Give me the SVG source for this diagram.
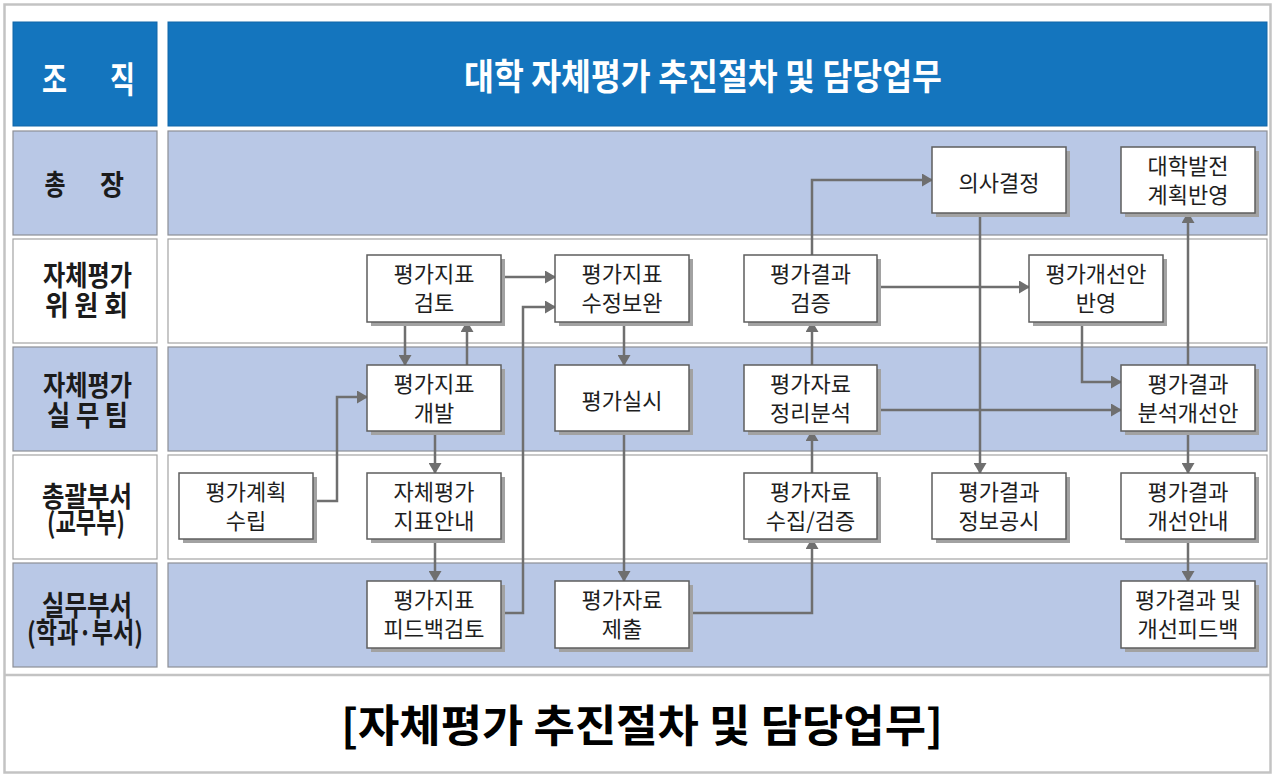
<svg xmlns="http://www.w3.org/2000/svg" width="1275" height="775" viewBox="0 0 1275 775">
<style>
.bg{fill:#fff}
.frame{fill:none;stroke:#c3c3c3;stroke-width:2.5}
.hdr{fill:#1475be;stroke:#1066a8;stroke-width:1}
.cl{fill:#b9c8e6;stroke:#8d8f96;stroke-width:1.2}
.cw{fill:#fff;stroke:#a3a3a3;stroke-width:1.2}
.sh{fill:#a2a2a2}
.bx{fill:#fff;stroke:#5e5e5e;stroke-width:1.5}
.bt{font-family:"Noto Sans CJK KR","Noto Sans",sans-serif;font-size:22px;fill:#1e1e1e;text-anchor:middle}
.lb{font-family:"Noto Sans CJK KR","Noto Sans",sans-serif;font-weight:700;font-size:28px;fill:#1b1b1b;text-anchor:middle}
.wt{font-family:"Noto Sans CJK KR","Noto Sans",sans-serif;font-weight:700;fill:#fff;text-anchor:middle}
.cap{font-family:"Noto Sans CJK KR","Noto Sans",sans-serif;font-weight:700;font-size:44px;fill:#000;text-anchor:middle}
.cn path{fill:none;stroke:#6f6f6f;stroke-width:2.5;marker-end:url(#ah)}
</style>
<defs>
<marker id="ah" markerUnits="userSpaceOnUse" markerWidth="11" markerHeight="13" refX="10" refY="6.5" orient="auto">
<path d="M0,0 L11,6.5 L0,13 z" fill="#6f6f6f"/>
</marker>
</defs>
<rect class="bg" x="0" y="0" width="1275" height="775"/>
<rect class="frame" x="4.5" y="4.5" width="1266" height="768"/>
<line x1="4" y1="675" x2="1271" y2="675" stroke="#c3c3c3" stroke-width="2.5"/>

<g id="header">
<rect class="hdr" x="13" y="22" width="144" height="104"/>
<rect class="hdr" x="168" y="22" width="1099" height="104"/>
<text class="wt" x="54.5" y="93" font-size="36" textLength="25" lengthAdjust="spacingAndGlyphs">조</text>
<text class="wt" x="122.5" y="93" font-size="36" textLength="25" lengthAdjust="spacingAndGlyphs">직</text>
<text class="wt" x="703" y="90" font-size="36" textLength="478" lengthAdjust="spacingAndGlyphs">대학 자체평가 추진절차 및 담당업무</text>
</g>

<g id="lanes">
<rect class="cl" x="13" y="131" width="144" height="104"/>
<rect class="cl" x="168" y="131" width="1099" height="104"/>
<rect class="cw" x="13" y="239" width="144" height="104"/>
<rect class="cw" x="168" y="239" width="1099" height="104"/>
<rect class="cl" x="13" y="347" width="144" height="104"/>
<rect class="cl" x="168" y="347" width="1099" height="104"/>
<rect class="cw" x="13" y="455" width="144" height="104"/>
<rect class="cw" x="168" y="455" width="1099" height="104"/>
<rect class="cl" x="13" y="563" width="144" height="104"/>
<rect class="cl" x="168" y="563" width="1099" height="104"/>
</g>

<g id="lane-labels">
<text class="lb" x="55" y="195" textLength="21" lengthAdjust="spacingAndGlyphs">총</text>
<text class="lb" x="112" y="195" textLength="24" lengthAdjust="spacingAndGlyphs">장</text>
<text class="lb" x="87.5" y="286" textLength="89" lengthAdjust="spacingAndGlyphs">자체평가</text>
<text class="lb" x="86.5" y="316" textLength="83" lengthAdjust="spacingAndGlyphs">위 원 회</text>
<text class="lb" x="87.5" y="396" textLength="89" lengthAdjust="spacingAndGlyphs">자체평가</text>
<text class="lb" x="87.5" y="426" textLength="81" lengthAdjust="spacingAndGlyphs">실 무 팀</text>
<text class="lb" x="87" y="507" textLength="90" lengthAdjust="spacingAndGlyphs">총괄부서</text>
<text class="lb" x="86" y="533" textLength="78" lengthAdjust="spacingAndGlyphs">(교무부)</text>
<text class="lb" x="87" y="616" textLength="90" lengthAdjust="spacingAndGlyphs">실무부서</text>
<text class="lb" x="85" y="643" textLength="116" lengthAdjust="spacingAndGlyphs">(학과·부서)</text>
</g>

<g id="connectors" class="cn">
<path d="M405,322 V365"/>
<path d="M467,365 V322"/>
<path d="M501,277 H555"/>
<path d="M313,501 H337 V397 H367"/>
<path d="M435,431 V473"/>
<path d="M435,539 V581"/>
<path d="M501,613 H523 V307 H555"/>
<path d="M624,322 V365"/>
<path d="M624,431 V581"/>
<path d="M689,613 H812 V539"/>
<path d="M812,473 V431"/>
<path d="M812,365 V322"/>
<path d="M812,255 V180 H932"/>
<path d="M877,287 H1029"/>
<path d="M980,213 V473"/>
<path d="M1082,322 V382 H1121"/>
<path d="M877,410 H1121"/>
<path d="M1188,365 V213"/>
<path d="M1188,431 V473"/>
<path d="M1188,539 V581"/>
</g>

<g id="n-decide"><rect class="sh" x="936" y="151" width="134" height="66"/><rect class="bx" x="932" y="147" width="134" height="66"/><text class="bt" x="999" y="191">의사결정</text></g>
<g id="n-plan-reflect"><rect class="sh" x="1125" y="151" width="134" height="66"/><rect class="bx" x="1121" y="147" width="134" height="66"/><text class="bt" x="1188" y="174">대학발전</text><text class="bt" x="1188" y="203">계획반영</text></g>

<g id="n-review"><rect class="sh" x="371" y="259" width="134" height="67"/><rect class="bx" x="367" y="255" width="134" height="67"/><text class="bt" x="434" y="282">평가지표</text><text class="bt" x="434" y="311">검토</text></g>
<g id="n-revise"><rect class="sh" x="559" y="259" width="134" height="67"/><rect class="bx" x="555" y="255" width="134" height="67"/><text class="bt" x="622" y="282">평가지표</text><text class="bt" x="622" y="311">수정보완</text></g>
<g id="n-verify"><rect class="sh" x="748" y="259" width="133" height="67"/><rect class="bx" x="744" y="255" width="133" height="67"/><text class="bt" x="810.5" y="282">평가결과</text><text class="bt" x="810.5" y="311">검증</text></g>
<g id="n-improve-reflect"><rect class="sh" x="1033" y="259" width="134" height="67"/><rect class="bx" x="1029" y="255" width="134" height="67"/><text class="bt" x="1096" y="282">평가개선안</text><text class="bt" x="1096" y="311">반영</text></g>

<g id="n-develop"><rect class="sh" x="371" y="369" width="134" height="66"/><rect class="bx" x="367" y="365" width="134" height="66"/><text class="bt" x="434" y="392">평가지표</text><text class="bt" x="434" y="421">개발</text></g>
<g id="n-conduct"><rect class="sh" x="559" y="369" width="134" height="66"/><rect class="bx" x="555" y="365" width="134" height="66"/><text class="bt" x="622" y="409">평가실시</text></g>
<g id="n-analyze"><rect class="sh" x="748" y="369" width="133" height="66"/><rect class="bx" x="744" y="365" width="133" height="66"/><text class="bt" x="810.5" y="392">평가자료</text><text class="bt" x="810.5" y="421">정리분석</text></g>
<g id="n-improve-plan"><rect class="sh" x="1125" y="369" width="134" height="66"/><rect class="bx" x="1121" y="365" width="134" height="66"/><text class="bt" x="1188" y="392">평가결과</text><text class="bt" x="1188" y="421">분석개선안</text></g>

<g id="n-plan"><rect class="sh" x="183" y="477" width="134" height="66"/><rect class="bx" x="179" y="473" width="134" height="66"/><text class="bt" x="246" y="500">평가계획</text><text class="bt" x="246" y="529">수립</text></g>
<g id="n-guide"><rect class="sh" x="371" y="477" width="134" height="66"/><rect class="bx" x="367" y="473" width="134" height="66"/><text class="bt" x="434" y="500">자체평가</text><text class="bt" x="434" y="529">지표안내</text></g>
<g id="n-collect"><rect class="sh" x="748" y="477" width="133" height="66"/><rect class="bx" x="744" y="473" width="133" height="66"/><text class="bt" x="810.5" y="500">평가자료</text><text class="bt" x="810.5" y="529">수집/검증</text></g>
<g id="n-disclose"><rect class="sh" x="936" y="477" width="134" height="66"/><rect class="bx" x="932" y="473" width="134" height="66"/><text class="bt" x="999" y="500">평가결과</text><text class="bt" x="999" y="529">정보공시</text></g>
<g id="n-improve-guide"><rect class="sh" x="1125" y="477" width="134" height="66"/><rect class="bx" x="1121" y="473" width="134" height="66"/><text class="bt" x="1188" y="500">평가결과</text><text class="bt" x="1188" y="529">개선안내</text></g>

<g id="n-feedback-review"><rect class="sh" x="371" y="585" width="134" height="67"/><rect class="bx" x="367" y="581" width="134" height="67"/><text class="bt" x="434" y="608">평가지표</text><text class="bt" x="434" y="637">피드백검토</text></g>
<g id="n-submit"><rect class="sh" x="559" y="585" width="134" height="67"/><rect class="bx" x="555" y="581" width="134" height="67"/><text class="bt" x="622" y="608">평가자료</text><text class="bt" x="622" y="637">제출</text></g>
<g id="n-feedback"><rect class="sh" x="1125" y="585" width="134" height="67"/><rect class="bx" x="1121" y="581" width="134" height="67"/><text class="bt" x="1188" y="608">평가결과 및</text><text class="bt" x="1188" y="637">개선피드백</text></g>

<g id="caption">
<text class="cap" x="642" y="742" textLength="602" lengthAdjust="spacingAndGlyphs">[자체평가 추진절차 및 담당업무]</text>
</g>
</svg>
